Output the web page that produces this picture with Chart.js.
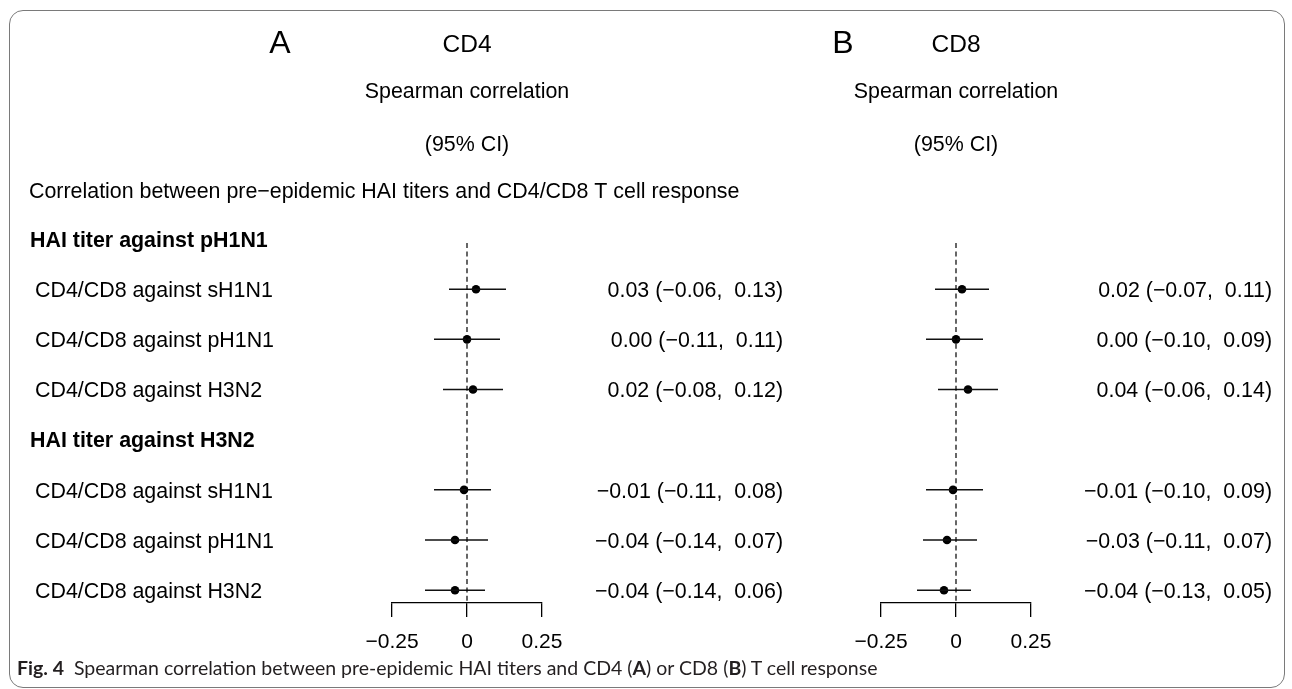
<!DOCTYPE html>
<html>
<head>
<meta charset="utf-8">
<script src="https://cdn.jsdelivr.net/npm/chart.js@4.4.1/dist/chart.umd.min.js"></script>
<style>
  html, body { margin: 0; padding: 0; background: #fff; }
  body { width: 1292px; height: 689px; position: relative; overflow: hidden; }
  #frame {
    position: absolute; left: 9px; top: 10px; width: 1276px; height: 678px;
    border: 1.5px solid #7a7a7a; border-radius: 14px; box-sizing: border-box;
  }
  #cd4, #cd8 { position: absolute; top: 0; }
  #cd4 { left: 0; }
  #cd8 { left: 800px; }
  #caption {
    position: absolute; left: 17px; top: 656px; white-space: nowrap;
    font-family: Lato, "Open Sans", sans-serif; font-size: 19.5px; color: #231f20;
  }
</style>
</head>
<body>
<div id="frame"></div>
<canvas id="cd4" width="800" height="689"></canvas>
<canvas id="cd8" width="492" height="689"></canvas>
<div id="caption"><b>Fig. 4</b>&nbsp; Spearman correlation between pre-epidemic HAI titers and CD4 (<b>A</b>) or CD8 (<b>B</b>) T cell response</div>
<script>
// rows of the forest plot
const groupLabels = ['HAI titer against pH1N1', 'HAI titer against H3N2'];
const rowLabels = [
  'CD4/CD8 against sH1N1', 'CD4/CD8 against pH1N1', 'CD4/CD8 against H3N2',
  'CD4/CD8 against sH1N1', 'CD4/CD8 against pH1N1', 'CD4/CD8 against H3N2'
];
const groupPos = [0, 4];
const rowPos = [1, 2, 3, 5, 6, 7];

// Spearman correlation (95% CI)
const cd4Est = [0.03, 0.00, 0.02, -0.01, -0.04, -0.04];
const cd4Lo  = [-0.06, -0.11, -0.08, -0.11, -0.14, -0.14];
const cd4Hi  = [0.13, 0.11, 0.12, 0.08, 0.07, 0.06];

const cd8Est = [0.02, 0.00, 0.04, -0.01, -0.03, -0.04];
const cd8Lo  = [-0.07, -0.10, -0.06, -0.10, -0.11, -0.13];
const cd8Hi  = [0.11, 0.09, 0.14, 0.09, 0.07, 0.05];

const xTicks = [-0.25, 0, 0.25];

const FONT = '"Liberation Sans", Arial, Helvetica, sans-serif';
const BODY = 21.4;
const Y_MAX = 7.255;

function fmt(v) {
  return (v < 0 ? '\u2212' : '') + Math.abs(v).toFixed(2);
}

// draws titles, row labels and the CI text next to each panel
const forestText = {
  id: 'forestText',
  afterDraw(chart, args, opts) {
    const ctx = chart.ctx;
    const y = chart.scales.y;
    const x0 = chart.scales.x.getPixelForValue(0);
    const off = BODY * 0.358;
    ctx.save();
    ctx.fillStyle = '#000';
    ctx.textBaseline = 'alphabetic';
    ctx.textAlign = 'center';
    ctx.font = '32px ' + FONT;
    ctx.fillText(opts.letter, opts.letterX, 53);
    ctx.font = '24.5px ' + FONT;
    ctx.fillText(opts.title, x0, 52);
    ctx.font = BODY + 'px ' + FONT;
    ctx.fillText('Spearman correlation', x0, 98);
    ctx.fillText('(95% CI)', x0, 151);

    if (opts.withLabels) {
      ctx.textAlign = 'left';
      ctx.fillText('Correlation between pre\u2212epidemic HAI titers and CD4/CD8 T cell response', 29, 198);
      ctx.font = 'bold ' + BODY + 'px ' + FONT;
      groupLabels.forEach((g, i) => ctx.fillText(g, 30, y.getPixelForValue(groupPos[i]) + off));
      ctx.font = BODY + 'px ' + FONT;
      rowLabels.forEach((r, i) => ctx.fillText(r, 35, y.getPixelForValue(rowPos[i]) + off));
    }

    ctx.textAlign = 'right';
    opts.est.forEach((e, i) => {
      const txt = fmt(e) + ' (' + fmt(opts.lo[i]) + ',  ' + fmt(opts.hi[i]) + ')';
      ctx.fillText(txt, opts.textRight, y.getPixelForValue(rowPos[i]) + off);
    });
    ctx.restore();
  }
};

function makePanel(id, est, lo, hi, pad, text) {
  const ciSets = est.map((e, i) => ({
    type: 'line',
    data: [{x: lo[i], y: rowPos[i]}, {x: hi[i], y: rowPos[i]}],
    borderColor: '#111',
    borderWidth: 1.5,
    pointRadius: 0,
    clip: false
  }));

  return new Chart(document.getElementById(id), {
    type: 'scatter',
    data: {
      datasets: [
        {
          type: 'line',
          data: [{x: 0, y: 0.08}, {x: 0, y: Y_MAX}],
          borderColor: '#000',
          borderWidth: 1.2,
          borderDash: [5, 3.4],
          pointRadius: 0,
          clip: false
        },
        ...ciSets,
        {
          type: 'scatter',
          data: est.map((e, i) => ({x: e, y: rowPos[i]})),
          pointRadius: 4.3,
          pointBackgroundColor: '#000',
          pointBorderColor: '#000',
          pointBorderWidth: 0,
          clip: false
        }
      ]
    },
    options: {
      responsive: false,
      animation: false,
      devicePixelRatio: 1,
      layout: { padding: { left: pad[0], right: pad[1], top: 229, bottom: 0 } },
      plugins: {
        legend: { display: false },
        tooltip: { enabled: false },
        forestText: Object.assign({ est: est, lo: lo, hi: hi }, text)
      },
      scales: {
        x: {
          type: 'linear',
          min: -0.25,
          max: 0.25,
          afterBuildTicks: s => { s.ticks = xTicks.map(v => ({ value: v })); },
          afterFit: s => { s.height = 86; },
          ticks: {
            callback: v => (v === 0 ? '0' : fmt(v)),
            font: { family: FONT, size: 21 },
            color: '#000',
            padding: 13,
            maxRotation: 0,
            autoSkip: false
          },
          grid: { drawOnChartArea: false, drawTicks: true, tickLength: 14, color: '#000', lineWidth: 1.3 },
          border: { display: true, color: '#000', width: 1.3 }
        },
        y: { type: 'linear', reverse: true, min: -0.2, max: Y_MAX, display: false }
      }
    },
    plugins: [forestText]
  });
}

makePanel('cd4', cd4Est, cd4Lo, cd4Hi, [392, 258],
  { letter: 'A', letterX: 280, title: 'CD4', textRight: 783, withLabels: true });
makePanel('cd8', cd8Est, cd8Lo, cd8Hi, [81, 261],
  { letter: 'B', letterX: 43, title: 'CD8', textRight: 472, withLabels: false });
</script>
</body>
</html>
